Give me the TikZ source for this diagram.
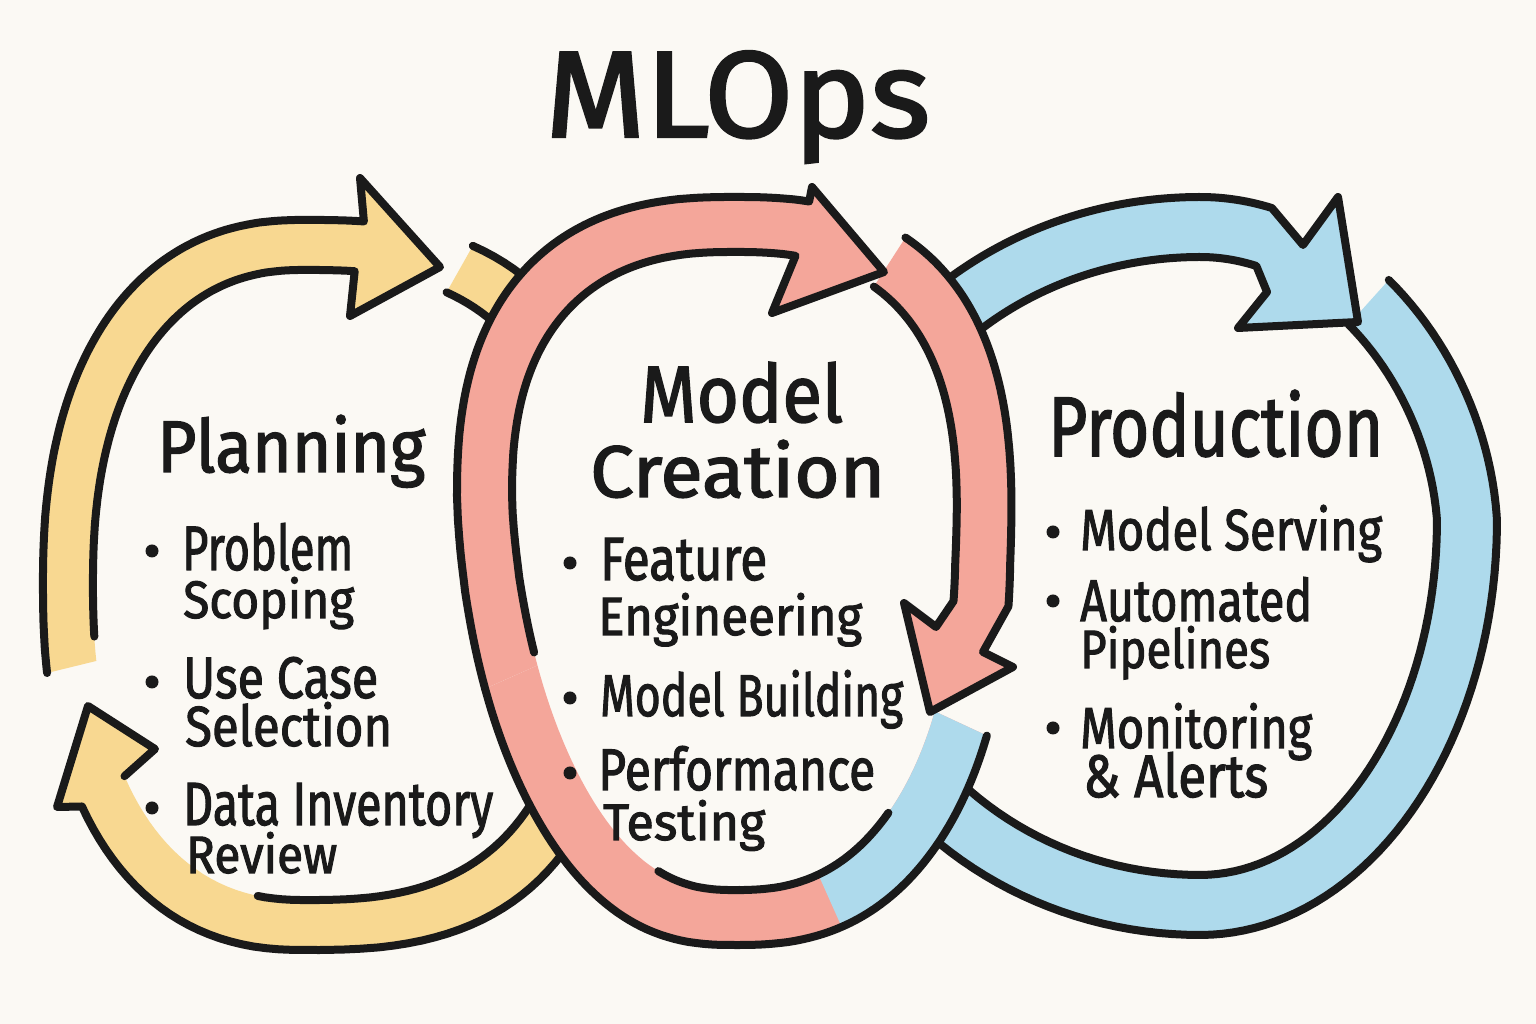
\documentclass[tikz,border=0pt]{standalone}
\usepackage{fontspec}
\setmainfont{Fira Sans}
\newfontfamily\hand{Fira Sans}[FakeBold=2]
\usepackage{graphicx}
\definecolor{bgc}{HTML}{FBF9F4}
\definecolor{yel}{HTML}{F8D891}
\definecolor{pnk}{HTML}{F4A69A}
\definecolor{blu}{HTML}{AEDAEC}
\definecolor{ink}{HTML}{1A1A1A}
\begin{document}
\begin{tikzpicture}[x=1pt,y=1pt,
 declare function={
  spow(\xa,\pa)=((\xa>=0)?1:-1)*pow(abs(\xa)+0.0001,\pa);
  yelx(\ta,\da)=305+((cos(\ta)>=0)?((320-\da)*spow(cos(\ta),0.75)):((262-\da)*spow(cos(\ta),0.86)));
  yely(\ta,\da)=439+(365-\da)*((cos(\ta)>=0)?spow(sin(\ta),0.75):spow(sin(\ta),0.86));
  pnkx(\ta,\da)=735+((cos(\ta)>=0)?(275+25*sin(\ta)-\da):(278+45*min(sin(\ta),0)-\da))*spow(cos(\ta),0.8);
  pnky(\ta,\da)=(cos(\ta)>=0)?(453+(374-\da)*spow(sin(\ta),0.8)):((sin(\ta)>=0)?(524+(303-\da)*spow(sin(\ta),0.8)):(524+(445-\da)*spow(sin(\ta),0.8)));
  blux(\ta,\da)=1200+((cos(\ta)>=0)?(297-20*max(sin(\ta),0)-\da):(398-\da))*cos(\ta);
  bluy(\ta,\da)=(cos(\ta)>=0)?((sin(\ta)>=0)?(504+(323-\da)*sin(\ta)):(504+(415-\da)*sin(\ta))):((sin(\ta)>=0)?(464+(363-\da)*sin(\ta)):(464+(375-\da)*sin(\ta)));
 },
 pl/.style={samples=90,variable=\tv},
 ring/.style={line width=8pt, draw=ink, line cap=round, line join=round},
 txt/.style={inner sep=0pt, anchor=base west, text=ink, font=\hand\fontsize{40}{48}\selectfont},
 dotb/.style={circle, fill=ink, inner sep=0pt, minimum size=13pt}]
\useasboundingbox (0,0) rectangle (1536,1024);
\fill[bgc] (0,0) rectangle (1536,1024);

% ---------- yellow ring ----------
\fill[yel] plot[pl,domain=65:-146]({yelx(\tv,0)},{yely(\tv,0)}) -- (57,217) -- (88,318) -- (155,275) -- plot[pl,domain=-146:65]({yelx(\tv,50)},{yely(\tv,50)}) -- cycle;
\draw[ring] plot[pl,domain=65:-146]({yelx(\tv,0)},{yely(\tv,0)}) -- (57,217) -- (88,318) -- (155,275) -- ({yelx(-146,50)},{yely(-146,50)});
\draw[ring] plot[pl,domain=-100:65]({yelx(\tv,50)},{yely(\tv,50)});
\fill[yel] plot[pl,domain=191:84]({yelx(\tv,0)},{yely(\tv,0)}) -- (360,846) -- (440,757) -- (350,708) -- plot[pl,domain=84:191]({yelx(\tv,50)},{yely(\tv,50)}) -- cycle;
\draw[ring] plot[pl,domain=191:84]({yelx(\tv,0)},{yely(\tv,0)}) -- (360,846) -- (440,757) -- (350,708) -- plot[pl,domain=84:187]({yelx(\tv,50)},{yely(\tv,50)});

% ---------- blue ring ----------
\fill[blu] plot[pl,domain=48:-135]({blux(\tv,0)},{bluy(\tv,0)}) -- plot[pl,domain=-135:48]({blux(\tv,60)},{bluy(\tv,60)}) -- cycle;
\draw[ring] plot[pl,domain=48:-135]({blux(\tv,0)},{bluy(\tv,0)});
\draw[ring] plot[pl,domain=48:-135]({blux(\tv,60)},{bluy(\tv,60)});
\fill[blu] plot[pl,domain=150:75]({blux(\tv,0)},{bluy(\tv,0)}) -- (1303,779) -- (1338,827) -- (1358,702) -- (1238,696) -- (1267,732) -- plot[pl,domain=75:150]({blux(\tv,60)},{bluy(\tv,60)}) -- cycle;
\draw[ring] plot[pl,domain=150:75]({blux(\tv,0)},{bluy(\tv,0)}) -- (1303,779) -- (1338,827) -- (1358,702) -- (1238,696) -- (1267,732) -- plot[pl,domain=75:150]({blux(\tv,60)},{bluy(\tv,60)});

% ---------- pink ring ----------
\fill[bgc] plot[samples=180,variable=\tv,domain=0:360]({pnkx(\tv,0)},{pnky(\tv,0)}) -- cycle;
\fill[pnk] plot[pl,domain=-21:-160]({pnkx(\tv,0)},{pnky(\tv,0)}) -- plot[pl,domain=-160:-21]({pnkx(\tv,55)},{pnky(\tv,55)}) -- cycle;
\fill[blu] plot[pl,domain=-21:-70]({pnkx(\tv,0)},{pnky(\tv,0)}) -- plot[pl,domain=-70:-21]({pnkx(\tv,55)},{pnky(\tv,55)}) -- cycle;
\draw[ring] plot[pl,domain=-21:-160]({pnkx(\tv,0)},{pnky(\tv,0)});
\draw[ring] plot[pl,domain=-45:-110]({pnkx(\tv,55)},{pnky(\tv,55)});
\fill[pnk] plot[pl,domain=60:-3]({pnkx(\tv,0)},{pnky(\tv,0)}) -- (983,372) -- (1013,357) -- (930,312) -- (904,421) -- (936,397) -- plot[pl,domain=-3:60]({pnkx(\tv,55)},{pnky(\tv,55)}) -- cycle;
\draw[ring] plot[pl,domain=60:-3]({pnkx(\tv,0)},{pnky(\tv,0)}) -- (983,372) -- (1013,357) -- (930,312) -- (904,421) -- (936,397) -- plot[pl,domain=-3:60]({pnkx(\tv,55)},{pnky(\tv,55)});
\fill[pnk] plot[pl,domain=200:80]({pnkx(\tv,0)},{pnky(\tv,0)}) -- (812,837) -- (884,752) -- (772,711) -- plot[pl,domain=80:200]({pnkx(\tv,55)},{pnky(\tv,55)}) -- cycle;
\draw[ring] plot[pl,domain=200:80]({pnkx(\tv,0)},{pnky(\tv,0)}) -- (812,837) -- (884,752) -- (772,711) -- plot[pl,domain=80:198]({pnkx(\tv,55)},{pnky(\tv,55)});

% ---------- texts ----------
\node[txt] (title) at (545,887) {\resizebox{385pt}{86pt}{MLOps}};
\node[txt] (plan) at (157,552) {\resizebox{268pt}{57pt}{Planning}};
\node[txt] (model) at (640,602) {\resizebox{203pt}{60pt}{Model}};
\node[txt] (creation) at (590,527) {\resizebox{295pt}{57pt}{Creation}};
\node[txt] (prod) at (1048,568) {\resizebox{335pt}{66pt}{Production}};

\node[dotb] (d1) at (152,473) {};
\node[dotb] (d2) at (152,342) {};
\node[dotb] (d3) at (152,216) {};
\node[txt] (p1a) at (182,454) {\resizebox{171pt}{47pt}{Problem}};
\node[txt] (p1b) at (183,406) {\resizebox{171pt}{41pt}{Scoping}};
\node[txt] (p2a) at (183,326) {\resizebox{195pt}{41pt}{Use Case}};
\node[txt] (p2b) at (185,278) {\resizebox{207pt}{44pt}{Selection}};
\node[txt] (p3a) at (183,199) {\resizebox{310pt}{42pt}{Data Inventory}};
\node[txt] (p3b) at (186,151) {\resizebox{151pt}{41pt}{Review}};

\node[dotb] (d4) at (570,461) {};
\node[dotb] (d5) at (570,326) {};
\node[dotb] (d6) at (570,251) {};
\node[txt] (m1a) at (600,444) {\resizebox{167pt}{42pt}{Feature}};
\node[txt] (m1b) at (598,389) {\resizebox{264pt}{42pt}{Engineering}};
\node[txt] (m2) at (600,308) {\resizebox{303pt}{46pt}{Model Building}};
\node[txt] (m3a) at (598,234) {\resizebox{277pt}{44pt}{Performance}};
\node[txt] (m3b) at (603,184) {\resizebox{162pt}{40pt}{Testing}};

\node[dotb] (d7) at (1053,492) {};
\node[dotb] (d8) at (1053,423) {};
\node[dotb] (d9) at (1053,296) {};
\node[txt] (r1) at (1080,474) {\resizebox{302pt}{45pt}{Model Serving}};
\node[txt] (r2a) at (1080,403) {\resizebox{232pt}{44pt}{Automated}};
\node[txt] (r2b) at (1080,356) {\resizebox{190pt}{42pt}{Pipelines}};
\node[txt] (r3a) at (1080,276) {\resizebox{232pt}{45pt}{Monitoring}};
\node[txt] (r3b) at (1083,227) {\resizebox{185pt}{45pt}{\& Alerts}};
\end{tikzpicture}
\end{document}
